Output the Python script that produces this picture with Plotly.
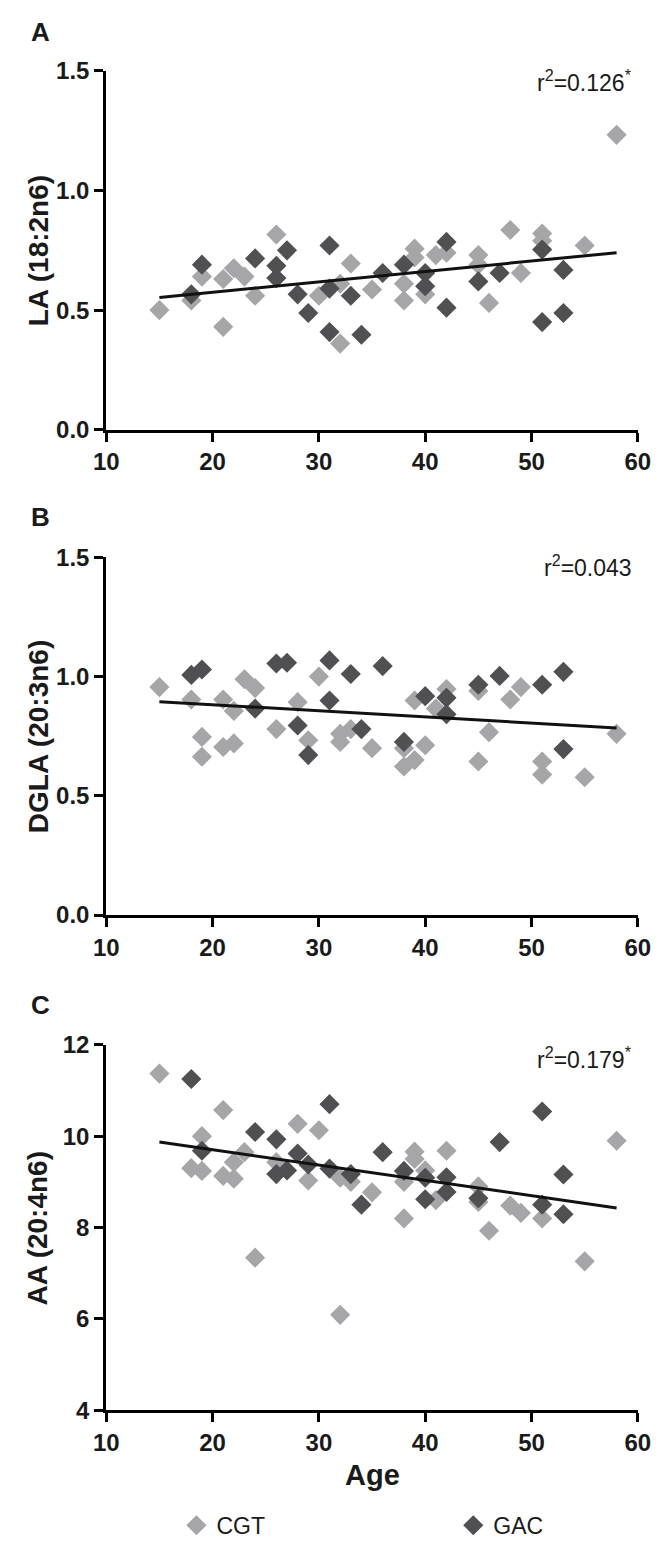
import plotly.graph_objects as go

W, H = 672, 1554

# ---------------- data ----------------
# Panel A: LA (18:2n6)
a_cgt_age = [15, 18, 19, 21, 21, 22, 23, 24, 26, 30, 32, 32, 33, 35, 38, 38, 39, 39, 40, 41, 42, 45, 45, 46, 48, 49, 51, 51, 55, 58]
a_cgt_val = [0.50, 0.54, 0.64, 0.43, 0.63, 0.675, 0.64, 0.56, 0.816, 0.56, 0.36, 0.61, 0.695, 0.586, 0.54, 0.61, 0.757, 0.72, 0.566, 0.73, 0.74, 0.73, 0.69, 0.53, 0.835, 0.655, 0.82, 0.79, 0.77, 1.233]
a_gac_age = [18, 19, 24, 26, 26, 27, 28, 29, 31, 31, 31, 33, 34, 36, 38, 40, 40, 42, 42, 45, 47, 51, 51, 53, 53]
a_gac_val = [0.566, 0.69, 0.716, 0.685, 0.634, 0.75, 0.566, 0.488, 0.77, 0.59, 0.408, 0.56, 0.397, 0.655, 0.69, 0.655, 0.60, 0.785, 0.51, 0.62, 0.655, 0.753, 0.45, 0.668, 0.488]

# Panel B: DGLA (20:3n6)
b_cgt_age = [15, 18, 19, 19, 21, 21, 22, 22, 23, 24, 26, 28, 29, 30, 32, 32, 33, 35, 38, 38, 39, 39, 40, 41, 42, 45, 45, 46, 48, 49, 51, 51, 55, 58]
b_cgt_val = [0.956, 0.904, 0.747, 0.664, 0.904, 0.705, 0.856, 0.72, 0.989, 0.952, 0.78, 0.893, 0.733, 1.0, 0.726, 0.76, 0.78, 0.70, 0.623, 0.70, 0.65, 0.90, 0.712, 0.866, 0.948, 0.94, 0.644, 0.767, 0.904, 0.956, 0.644, 0.589, 0.578, 0.76]
b_gac_age = [18, 19, 24, 26, 27, 28, 29, 31, 31, 33, 34, 36, 38, 40, 42, 42, 45, 47, 51, 53, 53]
b_gac_val = [1.007, 1.03, 0.866, 1.055, 1.058, 0.795, 0.671, 1.068, 0.90, 1.011, 0.78, 1.044, 0.726, 0.918, 0.911, 0.842, 0.966, 1.003, 0.966, 1.02, 0.696]

# Panel C: AA (20:4n6)
c_cgt_age = [15, 18, 19, 19, 21, 21, 22, 22, 23, 24, 26, 28, 29, 30, 32, 32, 33, 35, 38, 38, 39, 39, 40, 41, 42, 45, 45, 46, 48, 49, 51, 55, 58]
c_cgt_val = [11.37, 9.30, 10.0, 9.24, 10.57, 9.13, 9.07, 9.43, 9.65, 7.34, 9.43, 10.27, 9.03, 10.13, 9.09, 6.09, 9.0, 8.77, 8.2, 9.0, 9.66, 9.5, 9.25, 8.6, 9.68, 8.9, 8.56, 7.93, 8.48, 8.32, 8.2, 7.26, 9.9]
c_gac_age = [18, 19, 24, 26, 26, 27, 28, 29, 31, 31, 33, 34, 36, 38, 40, 40, 42, 42, 45, 47, 51, 51, 53, 53]
c_gac_val = [11.25, 9.68, 10.09, 9.93, 9.17, 9.25, 9.62, 9.38, 10.7, 9.29, 9.17, 8.5, 9.65, 9.24, 9.09, 8.62, 9.1, 8.78, 8.64, 9.87, 10.54, 8.5, 9.16, 8.29]

# regression lines (end points)
fit_age = [15, 58]
a_fit = [0.553, 0.740]
b_fit = [0.895, 0.785]
c_fit = [9.87, 8.43]

panel_letters = ["A", "B", "C"]
y_titles = ["LA (18:2n6)", "DGLA (20:3n6)", "AA (20:4n6)"]
r2_texts = ["r<sup>2</sup>=0.126<sup>*</sup>", "r<sup>2</sup>=0.043", "r<sup>2</sup>=0.179<sup>*</sup>"]
y_ranges = [[0, 1.5], [0, 1.5], [4, 12]]
y_ticks = [[0.0, 0.5, 1.0, 1.5], [0.0, 0.5, 1.0, 1.5], [4, 6, 8, 10, 12]]
y_ticktext = [["0.0", "0.5", "1.0", "1.5"], ["0.0", "0.5", "1.0", "1.5"], ["4", "6", "8", "10", "12"]]
x_ticks = [10, 20, 30, 40, 50, 60]
series_names = ["CGT", "GAC"]

# ---------------- styling / layout ----------------
CGT_COLOR = "#a6a6a8"
GAC_COLOR = "#505052"
TXT = "#1a1a1a"
FONT = "Liberation Sans, Arial, Helvetica, sans-serif"

# pixel geometry of each panel: (top, bottom)
panel_px = [(58, 423), (553, 917), (1049, 1421)]
x_left, x_right = 97, 650

def py(v):
    return 1 - v / H

fig = go.Figure()

data = [
    (a_cgt_age, a_cgt_val, a_gac_age, a_gac_val, a_fit),
    (b_cgt_age, b_cgt_val, b_gac_age, b_gac_val, b_fit),
    (c_cgt_age, c_cgt_val, c_gac_age, c_gac_val, c_fit),
]

for i, (ca, cv, ga, gv, fit) in enumerate(data):
    sfx = "" if i == 0 else str(i + 1)
    xa, ya = "x" + sfx, "y" + sfx
    fig.add_trace(go.Scatter(
        x=ca, y=cv, mode="markers", name=series_names[0],
        marker=dict(symbol="diamond", size=15.5, color=CGT_COLOR, line=dict(width=0)),
        xaxis=xa, yaxis=ya, showlegend=(i == 0), legend="legend", cliponaxis=False))
    fig.add_trace(go.Scatter(
        x=ga, y=gv, mode="markers", name=series_names[1],
        marker=dict(symbol="diamond", size=15.5, color=GAC_COLOR, line=dict(width=0)),
        xaxis=xa, yaxis=ya, showlegend=(i == 0), legend="legend2", cliponaxis=False))
    fig.add_trace(go.Scatter(
        x=fit_age, y=fit, mode="lines", line=dict(color="#111111", width=3),
        xaxis=xa, yaxis=ya, showlegend=False, hoverinfo="skip"))

    top, bot = panel_px[i]
    axis_common = dict(
        showline=True, linecolor="black", linewidth=3,
        ticks="outside", ticklen=9, tickwidth=3, tickcolor="black",
        showgrid=False, zeroline=False,
        tickfont=dict(family=FONT, size=24, color=TXT, weight="bold"),
    )
    fig.update_layout(**{
        "xaxis" + sfx: dict(domain=[x_left / W, x_right / W], range=[10, 60],
                            tickvals=x_ticks, anchor=ya, **axis_common),
        "yaxis" + sfx: dict(domain=[py(bot), py(top)], range=y_ranges[i],
                            tickvals=y_ticks[i], ticktext=y_ticktext[i], anchor=xa,
                            **axis_common),
    })

    # panel letter
    letter_y = [18, 512, 1009][i]
    fig.add_annotation(text=panel_letters[i], x=29 / W, y=py(letter_y), xref="paper", yref="paper",
                       showarrow=False, xanchor="center", yanchor="middle",
                       font=dict(family=FONT, size=26, color=TXT, weight="bold"))
    # y title
    fig.add_annotation(text=y_titles[i], x=26 / W, y=py((top + bot) / 2), xref="paper", yref="paper",
                       showarrow=False, textangle=-90, xanchor="center", yanchor="middle",
                       font=dict(family=FONT, size=28, color=TXT, weight="bold"))
    # r^2
    r2_y = [68, 562, 1062][i]
    fig.add_annotation(text=r2_texts[i], x=646 / W, y=py(r2_y), xref="paper", yref="paper",
                       showarrow=False, xanchor="right", yanchor="middle",
                       font=dict(family=FONT, size=23, color=TXT))

# x-axis title
fig.add_annotation(text="Age", x=((x_left + x_right) / 2) / W, y=py(1487), xref="paper", yref="paper",
                   showarrow=False, xanchor="center", yanchor="middle",
                   font=dict(family=FONT, size=29, color=TXT, weight="bold"))

legend_common = dict(orientation="h", yanchor="middle", y=py(1538), xanchor="left",
                     font=dict(family=FONT, size=23, color=TXT),
                     bgcolor="rgba(0,0,0,0)", borderwidth=0, itemsizing="trace")

fig.update_layout(
    width=W, height=H,
    margin=dict(l=0, r=0, t=0, b=0),
    paper_bgcolor="white", plot_bgcolor="white",
    legend=dict(x=(192 - 22) / W, **legend_common),
    legend2=dict(x=(480 - 22) / W, **legend_common),
)

fig.write_html("out.html",
               config={"displayModeBar": False},
               post_script="document.body.style.margin='0';document.body.style.overflow='hidden';")
